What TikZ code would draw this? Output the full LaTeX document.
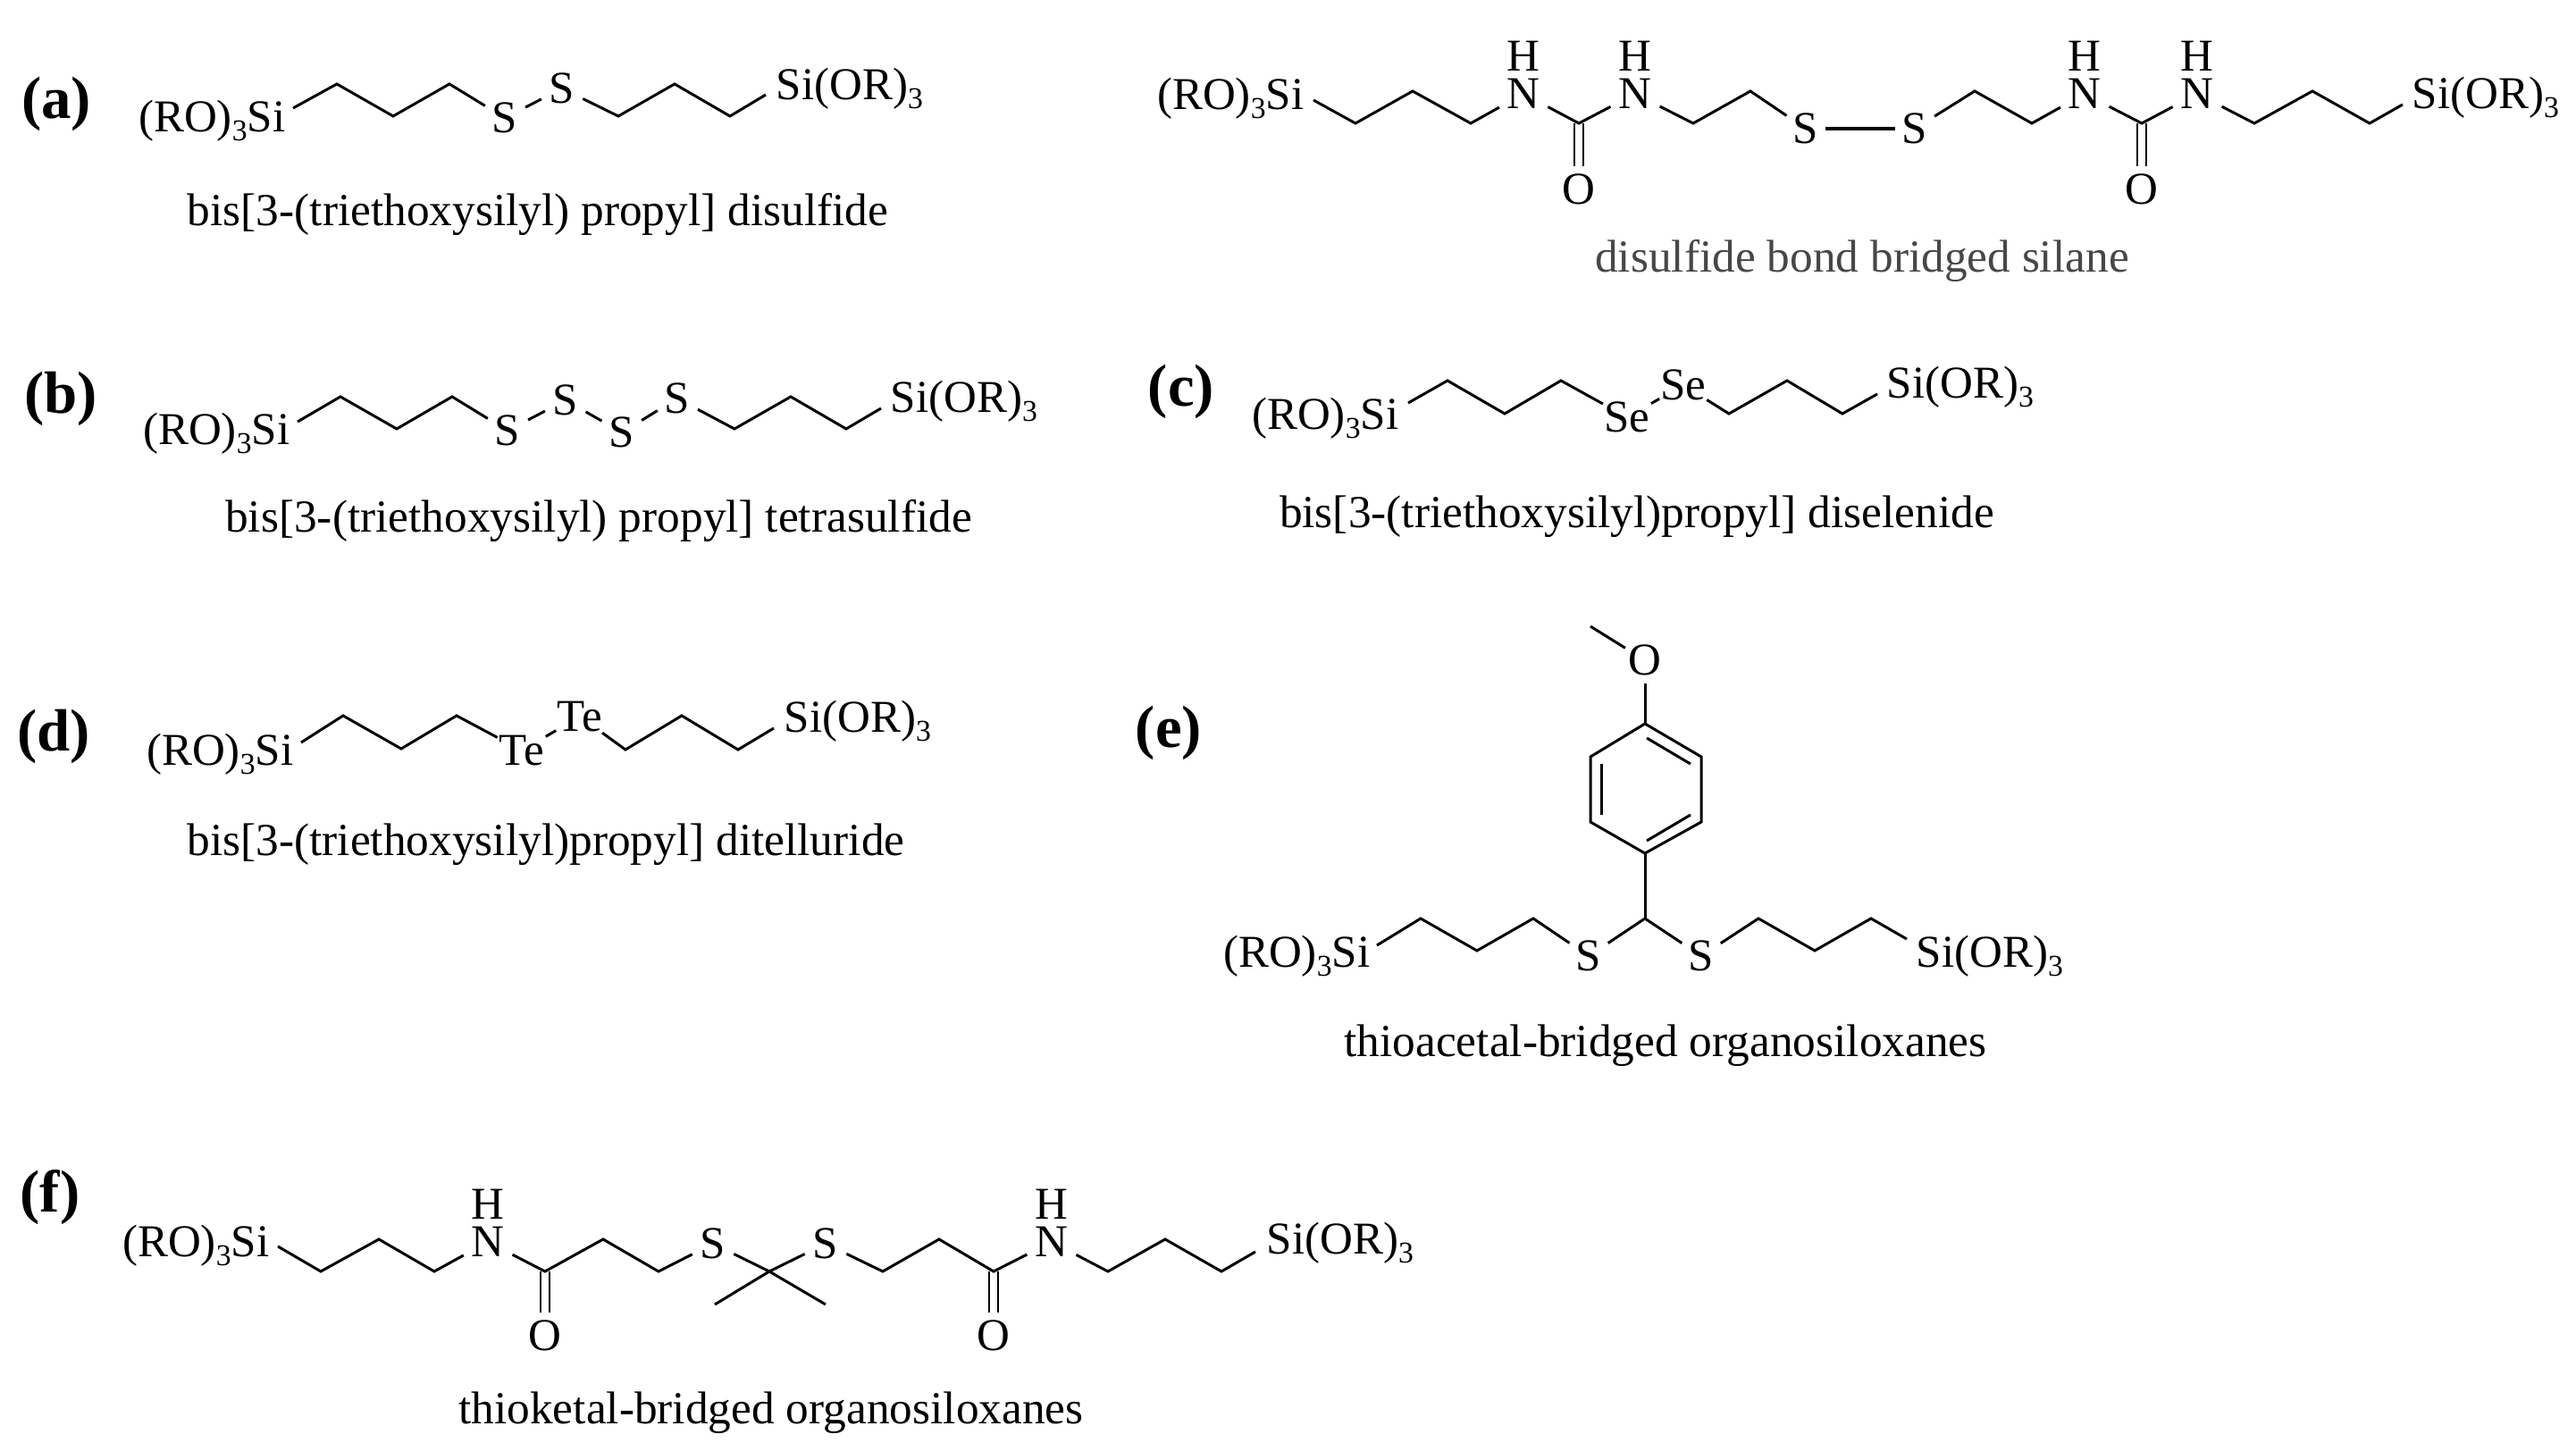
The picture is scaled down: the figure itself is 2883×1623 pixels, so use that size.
\documentclass[tikz,border=0pt]{standalone}
\usepackage{fontspec}
\setmainfont{Liberation Serif}
\usetikzlibrary{calc}

\newcommand{\lowthree}{\raisebox{-0.45ex}{\fontsize{9.6}{10}\selectfont 3}}
\newcommand{\rosi}{(RO)\lowthree Si}
\newcommand{\sior}{Si(OR)\lowthree}

\tikzset{
  atom/.style={circle,inner sep=0pt,outer sep=0pt,minimum size=0.52cm,font=\fontsize{14.5}{16}\selectfont},
  bigatom/.style={atom,minimum size=0.62cm},
  leftend/.style={anchor=base east,inner sep=0pt,font=\fontsize{14.5}{16}\selectfont},
  rightend/.style={anchor=base west,inner sep=0pt,font=\fontsize{14.5}{16}\selectfont},
  caption/.style={anchor=base,inner sep=0pt,font=\fontsize{14.6}{16}\selectfont},
  tag/.style={inner sep=0pt,font=\fontsize{19}{21}\selectfont\bfseries},
  bond/.style={line width=0.85pt,line join=miter},
  carbonyl/.style={line width=0.7pt,double,double distance=2.2pt}
}

\begin{document}
\begin{tikzpicture}[x=0.01cm,y=-0.01cm]

\useasboundingbox (0,0) rectangle (2883,1623);

% (a) disulfide
\node[tag] (taga) at (63,116) {(a)};
\node[leftend] (aro) at (320,147) {\rosi};
\node[rightend] (asi) at (868,111) {\sior};
\node[atom] (as1) at (565,132) {S};
\node[atom] (as2) at (629,99) {S};
\coordinate (a0) at (328,121);
\coordinate (a1) at (377,94);
\coordinate (a2) at (440,130);
\coordinate (a3) at (503,94);
\coordinate (a4) at (692,130);
\coordinate (a5) at (755,94);
\coordinate (a6) at (817,130);
\coordinate (a7) at (857,106);
\draw[bond] (a0) -- (a1) -- (a2) -- (a3) -- (as1);
\draw[bond] (as1) -- (as2);
\draw[bond] (as2) -- (a4) -- (a5) -- (a6) -- (a7);
\node[caption] (capa) at (602,252) {bis[3-(triethoxysilyl) propyl] disulfide};

% bridged silane, top right
\node[leftend] (gro) at (1460,122) {\rosi};
\node[rightend] (gsi) at (2699,121) {\sior};
\node[bigatom] (gn1) at (1705,105) {N};
\node[atom] (gh1) at (1705,63) {H};
\node[bigatom] (gn2) at (1830,105) {N};
\node[atom] (gh2) at (1830,63) {H};
\node[atom] (gs1) at (2021,144) {S};
\node[atom] (gs2) at (2143,144) {S};
\node[bigatom] (gn3) at (2333,105) {N};
\node[atom] (gh3) at (2333,63) {H};
\node[bigatom] (gn4) at (2459,105) {N};
\node[atom] (gh4) at (2459,63) {H};
\node[atom] (go1) at (1767,212) {O};
\node[atom] (go2) at (2397,212) {O};
\coordinate (g0) at (1470,112);
\coordinate (g1) at (1517,138);
\coordinate (g2) at (1581,102);
\coordinate (g3) at (1646,138);
\coordinate (g4) at (1767,138);
\coordinate (g5) at (1895,138);
\coordinate (g6) at (1959,102);
\coordinate (g7) at (2210,102);
\coordinate (g8) at (2274,138);
\coordinate (g9) at (2397,138);
\coordinate (g10) at (2523,138);
\coordinate (g11) at (2588,102);
\coordinate (g12) at (2652,138);
\coordinate (g13) at (2689,117);

% urea groups
\draw[carbonyl] (g4) -- (go1);
\draw[carbonyl] (g9) -- (go2);

\draw[bond] (g0) -- (g1) -- (g2) -- (g3) -- (gn1);
\draw[bond] (gn1) -- (g4) -- (gn2);
\draw[bond] (gn2) -- (g5) -- (g6) -- (gs1);
\draw[bond,line width=1.3pt,shorten <=-1.2pt,shorten >=-1.2pt] (gs1) -- (gs2);
\draw[bond] (gs2) -- (g7) -- (g8) -- (gn3);
\draw[bond] (gn3) -- (g9) -- (gn4);
\draw[bond] (gn4) -- (g10) -- (g11) -- (g12) -- (g13);
\node[caption,text=black!72] (capg) at (2084,304) {disulfide bond bridged silane};

% (b) tetrasulfide
\node[tag] (tagb) at (68,446) {(b)};
\node[leftend] (bro) at (325,497) {\rosi};
\node[rightend] (bsi) at (996,461) {\sior};
\node[atom] (bs1) at (568,482) {S};
\node[atom] (bs2) at (633,448) {S};
\node[atom] (bs3) at (696,484) {S};
\node[atom] (bs4) at (758,446) {S};
\coordinate (b0) at (333,472);
\coordinate (b1) at (381,444);
\coordinate (b2) at (444,480);
\coordinate (b3) at (506,444);
\coordinate (b4) at (822,480);
\coordinate (b5) at (885,444);
\coordinate (b6) at (947,480);
\coordinate (b7) at (986,457);
\draw[bond] (b0) -- (b1) -- (b2) -- (b3) -- (bs1);
\draw[bond] (bs1) -- (bs2);
\draw[bond] (bs2) -- (bs3);
\draw[bond] (bs3) -- (bs4);
\draw[bond] (bs4) -- (b4) -- (b5) -- (b6) -- (b7);
\node[caption] (capb) at (670,595) {bis[3-(triethoxysilyl) propyl] tetrasulfide};

% (c) diselenide
\node[tag] (tagc) at (1322,438) {(c)};
\node[leftend] (cro) at (1566,480) {\rosi};
\node[rightend] (csi) at (2111,445) {\sior};
\node[bigatom] (cse1) at (1821,467) {Se};
\node[bigatom] (cse2) at (1884,431) {Se};
\coordinate (c0) at (1576,451);
\coordinate (c1) at (1620,426);
\coordinate (c2) at (1684,463);
\coordinate (c3) at (1747,426);
\coordinate (c4) at (1935,463);
\coordinate (c5) at (2000,426);
\coordinate (c6) at (2062,463);
\coordinate (c7) at (2101,441);
\draw[bond] (c0) -- (c1) -- (c2) -- (c3) -- (cse1);
\draw[bond] (cse1) -- (cse2);
\draw[bond] (cse2) -- (c4) -- (c5) -- (c6) -- (c7);
\node[caption] (capc) at (1832,590) {bis[3-(triethoxysilyl)propyl] diselenide};

% (d) ditelluride
\node[tag] (tagd) at (60,824) {(d)};
\node[leftend] (dro) at (329,856) {\rosi};
\node[rightend] (dsi) at (877,819) {\sior};
\node[bigatom] (dte1) at (584,840) {Te};
\node[bigatom] (dte2) at (649,802) {Te};
\coordinate (d0) at (337,831);
\coordinate (d1) at (384,801);
\coordinate (d2) at (449,838);
\coordinate (d3) at (511,801);
\coordinate (d4) at (700,839);
\coordinate (d5) at (763,801);
\coordinate (d6) at (826,839);
\coordinate (d7) at (866,815);
\draw[bond] (d0) -- (d1) -- (d2) -- (d3) -- (dte1);
\draw[bond] (dte1) -- (dte2);
\draw[bond] (dte2) -- (d4) -- (d5) -- (d6) -- (d7);
\node[caption] (capd) at (611,957) {bis[3-(triethoxysilyl)propyl] ditelluride};

% (e) thioacetal
\node[tag] (tage) at (1308,820) {(e)};
\node[leftend] (ero) at (1534,1082) {\rosi};
\node[rightend] (esi) at (2144,1082) {\sior};
\node[atom] (eo) at (1841,739) {O};
\node[atom] (es1) at (1778,1070) {S};
\node[atom] (es2) at (1904,1070) {S};
\coordinate (eme) at (1780,701);
\coordinate (r1) at (1841,810);
\coordinate (r2) at (1904,847);
\coordinate (r3) at (1904,920);
\coordinate (r4) at (1841,955);
\coordinate (r5) at (1780,920);
\coordinate (r6) at (1780,847);
\coordinate (i1) at (1843,826);
\coordinate (i2) at (1892,855);
\coordinate (i3) at (1892,912);
\coordinate (i4) at (1843,941);
\coordinate (i5) at (1792,912);
\coordinate (i6) at (1792,855);
\coordinate (ec) at (1841,1028);
\coordinate (e0) at (1541,1058);
\coordinate (e1) at (1590,1028);
\coordinate (e2) at (1653,1064);
\coordinate (e3) at (1716,1028);
\coordinate (e4) at (1968,1028);
\coordinate (e5) at (2031,1064);
\coordinate (e6) at (2094,1028);
\coordinate (e7) at (2134,1051);

% methoxy and ring
\draw[bond] (eme) -- (eo);
\draw[bond] (eo) -- (r1);
\draw[bond] (r1) -- (r2) -- (r3) -- (r4) -- (r5) -- (r6) -- cycle;
\draw[bond] (i1) -- (i2);
\draw[bond] (i3) -- (i4);
\draw[bond] (i5) -- (i6);
\draw[bond] (r4) -- (ec);

\draw[bond] (e0) -- (e1) -- (e2) -- (e3) -- (es1);
\draw[bond] (es1) -- (ec) -- (es2);
\draw[bond] (es2) -- (e4) -- (e5) -- (e6) -- (e7);
\node[caption] (cape) at (1864,1182) {thioacetal-bridged organosiloxanes};

% (f) thioketal
\node[tag] (tagf) at (56,1340) {(f)};
\node[leftend] (fro) at (302,1406) {\rosi};
\node[rightend] (fsi) at (1417,1403) {\sior};
\node[bigatom] (fn1) at (546,1390) {N};
\node[atom] (fh1) at (546,1348) {H};
\node[atom] (fs1) at (798,1392) {S};
\node[atom] (fs2) at (924,1392) {S};
\node[bigatom] (fn2) at (1177,1390) {N};
\node[atom] (fh2) at (1177,1348) {H};
\node[atom] (fo1) at (610,1495) {O};
\node[atom] (fo2) at (1112,1495) {O};
\coordinate (f0) at (311,1395);
\coordinate (f1) at (359,1423);
\coordinate (f2) at (424,1387);
\coordinate (f3) at (486,1423);
\coordinate (f4) at (610,1423);
\coordinate (f5) at (675,1387);
\coordinate (f6) at (737,1423);
\coordinate (f7) at (861,1423);
\coordinate (f8) at (800,1460);
\coordinate (f9) at (924,1460);
\coordinate (f10) at (988,1423);
\coordinate (f11) at (1051,1387);
\coordinate (f12) at (1112,1423);
\coordinate (f13) at (1240,1423);
\coordinate (f14) at (1304,1387);
\coordinate (f15) at (1367,1423);
\coordinate (f16) at (1405,1401);

% amide groups
\draw[carbonyl] (f4) -- (fo1);
\draw[carbonyl] (f12) -- (fo2);

\draw[bond] (f0) -- (f1) -- (f2) -- (f3) -- (fn1);
\draw[bond] (fn1) -- (f4) -- (f5) -- (f6) -- (fs1);
\draw[bond] (fs1) -- (f7) -- (fs2);
\draw[bond] (f8) -- (f7) -- (f9);
\draw[bond] (fs2) -- (f10) -- (f11) -- (f12) -- (fn2);
\draw[bond] (fn2) -- (f13) -- (f14) -- (f15) -- (f16);
\node[caption] (capf) at (863,1593) {thioketal-bridged organosiloxanes};

\end{tikzpicture}
\end{document}
